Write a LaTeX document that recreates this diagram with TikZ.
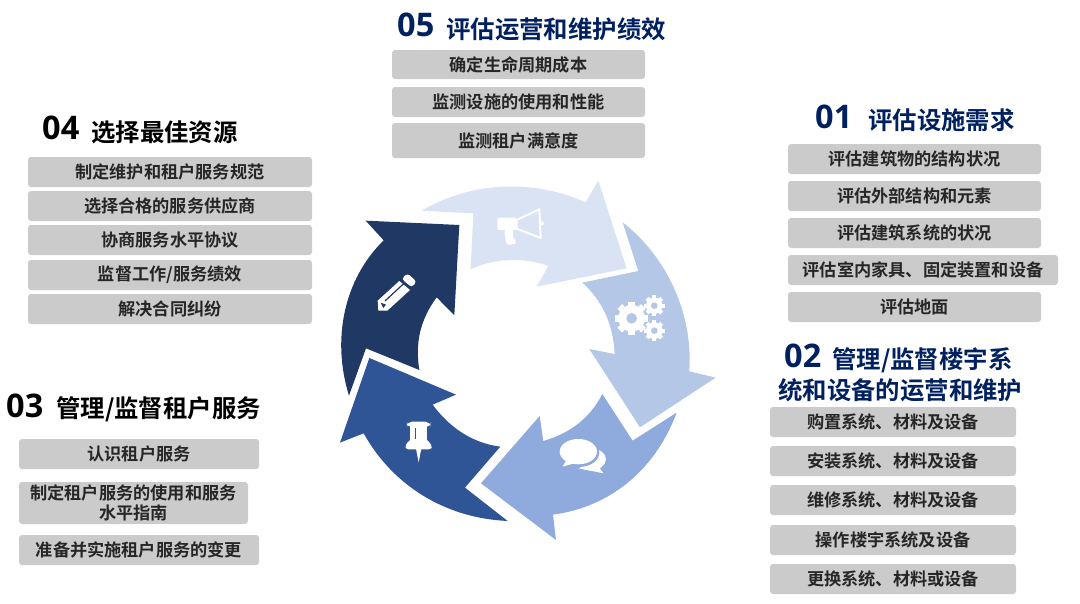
\documentclass[tikz,border=0pt]{standalone}
\usepackage{fontspec}
\usepackage{tikz}
\usetikzlibrary{positioning}
\setmainfont{Open Sans}
\newfontfamily\cjkbold[BoldFont={Noto Sans CJK SC Bold}]{Noto Sans CJK SC}
\definecolor{azul}{RGB}{0,32,96}
\definecolor{grisb}{RGB}{203,203,203}
\definecolor{textob}{RGB}{38,38,38}
\definecolor{flecha}{RGB}{218,227,243}
\definecolor{flechb}{RGB}{180,199,231}
\definecolor{flechc}{RGB}{143,170,220}
\definecolor{flechd}{RGB}{47,85,151}
\definecolor{fleche}{RGB}{32,56,100}
% one gear: x, y, radius, hole, teeth
\newcommand{\gearicon}[5]{
  \fill[white] (#1,#2) circle (#3*0.8);
  \foreach \ang in {1,...,#5}
    \fill[white, rotate around={360/#5*\ang:(#1,#2)}] (#1-#3*0.2,#2) rectangle (#1+#3*0.2,#2-#3);
  \fill[flechb] (#1,#2) circle (#4);
}
\tikzset{
  item/.style={fill=grisb, rounded corners=3pt, inner sep=0pt, align=center, text=textob,
    font=\fontsize{17.2}{20}\cjkbold\bfseries},
  num/.style={anchor=west, inner sep=0pt, font=\fontsize{32.5}{32}\bfseries},
  tit/.style={anchor=west, inner sep=0pt, align=center, font=\fontsize{24.4}{33}\cjkbold\bfseries},
}
\begin{document}
\begin{tikzpicture}[x=1pt,y=-1pt]
  \useasboundingbox (0,0) rectangle (1080,603);

  % ring
  \begin{scope}[shift={(330,170)},x=0.3333pt,y=-0.3333pt]
    \fill[flecha] (275,122) -- (430,130) -- (422,298) .. controls (490,265) and (580,260) .. (655,288) -- (620,350) -- (890,295) -- (805,32) -- (767,97) .. controls (620,30) and (430,30) .. (275,122) -- cycle;
    \fill[flechb] (878,157) -- (925,303) -- (757,338) .. controls (815,390) and (850,460) .. (854,552) -- (778,537) -- (930,772) -- (1157,623) -- (1078,604) .. controls (1090,430) and (1010,260) .. (878,157) -- cycle;
    \fill[flechc] (1040,728) -- (908,812) -- (817,672) .. controls (780,745) and (720,790) .. (640,813) -- (629,738) -- (453,940) -- (678,1110) -- (669,1034) .. controls (850,1010) and (980,890) .. (1040,728) -- cycle;
    \fill[flechd] (533,1053) -- (405,953) -- (511,830) .. controls (430,820) and (360,775) .. (308,704) -- (378,674) -- (118,564) -- (30,818) -- (101,790) .. controls (190,950) and (350,1045) .. (533,1053) -- cycle;
    \fill[fleche] (57,677) -- (108,535) -- (268,600) .. controls (255,520) and (270,450) .. (320,382) -- (373,436) -- (388,165) -- (107,152) -- (161,211) .. controls (40,330) and (5,510) .. (57,677) -- cycle;

    % megaphone
    \draw[white, line width=2pt, line join=round, fill=flecha] (560,150) -- (628,118) -- (632,204) -- (560,176) -- cycle;
    \fill[white, rounded corners=2pt] (502,143) -- (560,143) -- (560,180) -- (502,180) -- cycle;
    \fill[white, rounded corners=3pt] (522,178) -- (552,178) -- (546,198) -- (562,220) -- (530,226) -- cycle;
    \fill[white] (636,160) circle (6);
    % gears
    \gearicon{905}{445}{50}{16}{8}
    \gearicon{973}{407}{31}{10}{8}
    \gearicon{973}{482}{31}{10}{8}
    % speech bubbles
    \fill[white] (782,868) ellipse (46 and 33);
    \fill[white] (745,895) -- (820,910) -- (800,880) -- cycle;
    \fill[flechc] (748,848) ellipse (60 and 43);
    \fill[white] (745,845) ellipse (56 and 38);
    \fill[white] (698,890) -- (750,875) -- (712,865) -- cycle;
    % pin
    \fill[white, rounded corners=5pt] (231,755) rectangle (301,772);
    \fill[white] (240,768) rectangle (290,812);
    \fill[white, rounded corners=5pt] (240,805) -- (290,805) -- (312,838) -- (220,838) -- cycle;
    \fill[white] (258,836) -- (274,836) -- (266,877) -- cycle;
    \fill[flechd] (254,775) rectangle (259,806);
    % pencil
    \fill[white, rounded corners=3pt] (232,310) -- (260,335) -- (245,352) -- (215,327) -- cycle;
    \fill[white] (208,333) -- (240,360) -- (172,422) -- (145,422) -- (143,392) -- cycle;
    \draw[fleche, line width=1.2pt] (165,393) -- (222,340);
    \fill[fleche] (152,398) -- (168,404) -- (160,414) -- cycle;
  \end{scope}

  % 05
  \node[num, text=azul] (n5) at (397,25) {05};
  \node[tit, text=azul] (t5) at (446,29) {评估运营和维护绩效};
  \node[item, minimum width=253pt, minimum height=29pt] (a1) at (518.5,64.5) {确定生命周期成本};
  \node[item, minimum width=253pt, minimum height=30pt] (a2) at (518.5,102) {监测设施的使用和性能};
  \node[item, minimum width=253pt, minimum height=35pt] (a3) at (518.5,140.5) {监测租户满意度};

  % 01
  \node[num, text=azul] (n1) at (815,117) {01};
  \node[tit, text=azul] (t1) at (868,120) {评估设施需求};
  \node[item, minimum width=253pt, minimum height=30pt] (b1) at (914.5,159) {评估建筑物的结构状况};
  \node[item, minimum width=253pt, minimum height=30pt] (b2) at (914.5,196) {评估外部结构和元素};
  \node[item, minimum width=253pt, minimum height=30pt] (b3) at (914.5,233) {评估建筑系统的状况};
  \node[item, minimum width=270pt, minimum height=30pt] (b4) at (923,270) {评估室内家具、固定装置和设备};
  \node[item, minimum width=253pt, minimum height=30pt] (b5) at (914.5,307) {评估地面};

  % 02
  \node[num, text=azul] (n2) at (784,356) {02};
  \node[tit, text=azul] (t2) at (832,360) {管理/监督楼宇系};
  \node[tit, text=azul] (t2b) at (778,390) {统和设备的运营和维护};
  \node[item, minimum width=246pt, minimum height=30pt] (c1) at (893,422) {购置系统、材料及设备};
  \node[item, minimum width=246pt, minimum height=30pt] (c2) at (893,461) {安装系统、材料及设备};
  \node[item, minimum width=246pt, minimum height=30pt] (c3) at (893,500) {维修系统、材料及设备};
  \node[item, minimum width=246pt, minimum height=30pt] (c4) at (893,540) {操作楼宇系统及设备};
  \node[item, minimum width=246pt, minimum height=30pt] (c5) at (893,579) {更换系统、材料或设备};

  % 04
  \node[num] (n4) at (42,128) {04};
  \node[tit] (t4) at (91,132) {选择最佳资源};
  \node[item, minimum width=284pt, minimum height=30pt] (d1) at (170,172) {制定维护和租户服务规范};
  \node[item, minimum width=284pt, minimum height=30pt] (d2) at (170,206) {选择合格的服务供应商};
  \node[item, minimum width=284pt, minimum height=30pt] (d3) at (170,240) {协商服务水平协议};
  \node[item, minimum width=284pt, minimum height=30pt] (d4) at (170,275) {监督工作/服务绩效};
  \node[item, minimum width=284pt, minimum height=30pt] (d5) at (170,309) {解决合同纠纷};

  % 03
  \node[num] (n3) at (6,406) {03};
  \node[tit] (t3) at (56,409.5) {管理/监督租户服务};
  \node[item, minimum width=240pt, minimum height=30pt] (e1) at (139,454) {认识租户服务};
  \node[item, minimum width=229pt, minimum height=42pt] (e2) at (133.5,503) {制定租户服务的使用和服务\\水平指南};
  \node[item, minimum width=240pt, minimum height=30pt] (e3) at (139,550) {准备并实施租户服务的变更};
\end{tikzpicture}
\end{document}
